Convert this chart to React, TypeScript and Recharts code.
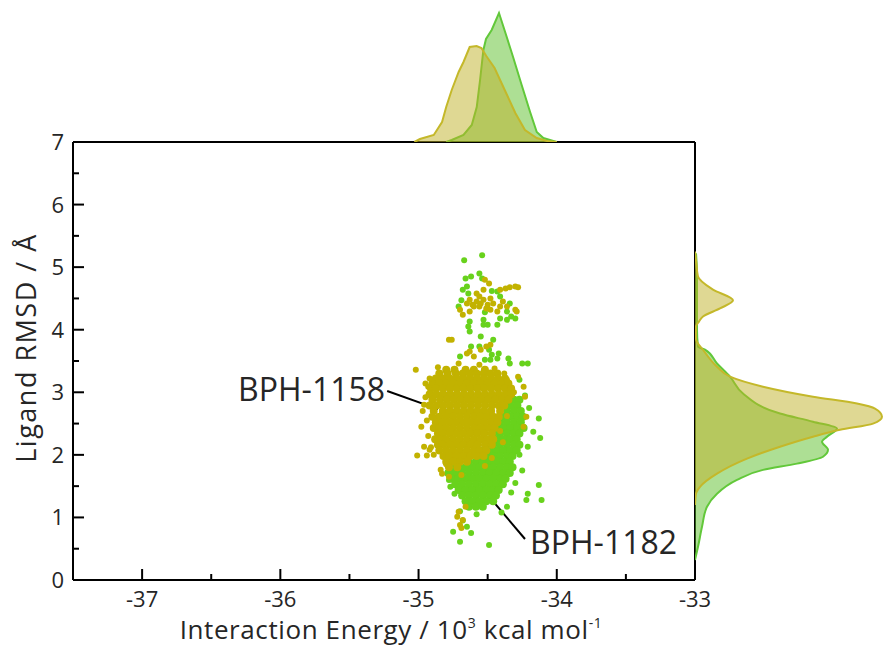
import {
  Area,
  ComposedChart,
  Label,
  ReferenceDot,
  ReferenceLine,
  Scatter,
  ScatterChart,
  XAxis,
  YAxis,
} from "recharts";

const X_TICKS = [-37.5, -37, -36.5, -36, -35.5, -35, -34.5, -34, -33.5, -33];
const Y_TICKS = [0, 0.5, 1, 1.5, 2, 2.5, 3, 3.5, 4, 4.5, 5, 5.5, 6, 6.5, 7];

const YELLOW = "#c2b200";
const GREEN = "#68d21c";
const YELLOW_LINE = "#c4b82a";
const GREEN_LINE = "#62c83a";
const INK = "#262626";

// BPH-1158: dense core read row by row (RMSD, energies)
const BPH1158_CORE: [number, number[]][] = [
  [3.36, [-34.8, -34.74, -34.66, -34.6, -34.52]],
  [3.3, [-34.85, -34.79, -34.73, -34.68, -34.63, -34.58, -34.53, -34.48, -34.43]],
  [3.22, [-34.875, -34.825, -34.775, -34.725, -34.675, -34.625, -34.575, -34.525, -34.475, -34.425, -34.375]],
  [3.14, [-34.9, -34.85, -34.8, -34.75, -34.7, -34.65, -34.6, -34.55, -34.5, -34.45, -34.4, -34.35]],
  [3.06, [-34.91, -34.875, -34.825, -34.775, -34.725, -34.675, -34.625, -34.575, -34.525, -34.475, -34.425, -34.375, -34.33]],
  [2.97, [-34.92, -34.87, -34.82, -34.77, -34.72, -34.67, -34.62, -34.57, -34.52, -34.47, -34.42, -34.37, -34.33]],
  [2.88, [-34.9, -34.845, -34.795, -34.745, -34.695, -34.645, -34.595, -34.545, -34.495, -34.445, -34.395, -34.35]],
  [2.79, [-34.92, -34.87, -34.82, -34.77, -34.72, -34.67, -34.62, -34.57, -34.52, -34.47, -34.42, -34.38]],
  [2.7, [-34.89, -34.825, -34.775, -34.725, -34.675, -34.625, -34.575, -34.525, -34.475, -34.41]],
  [2.61, [-34.9, -34.85, -34.8, -34.75, -34.7, -34.65, -34.6, -34.55, -34.5, -34.46, -34.42]],
  [2.52, [-34.875, -34.825, -34.775, -34.725, -34.675, -34.625, -34.575, -34.525, -34.475, -34.43]],
  [2.43, [-34.89, -34.85, -34.8, -34.75, -34.7, -34.65, -34.6, -34.55, -34.5, -34.45]],
  [2.34, [-34.86, -34.825, -34.775, -34.725, -34.675, -34.625, -34.575, -34.525, -34.47]],
  [2.25, [-34.88, -34.84, -34.8, -34.75, -34.7, -34.65, -34.6, -34.55, -34.5, -34.46]],
  [2.16, [-34.86, -34.825, -34.775, -34.725, -34.675, -34.625, -34.575, -34.52, -34.47]],
  [2.07, [-34.85, -34.8, -34.75, -34.7, -34.65, -34.6, -34.56, -34.51]],
  [1.98, [-34.82, -34.775, -34.725, -34.675, -34.625, -34.58, -34.53]],
  [1.89, [-34.8, -34.75, -34.7, -34.65]],
  [1.8, [-34.78, -34.72]],
];

// BPH-1158: scattered points (energy, RMSD)
const BPH1158_SPREAD = [
  [-34.52, 4.8], [-34.49, 4.74], [-34.53, 4.64], [-34.58, 4.58], [-34.56, 4.53],
  [-34.41, 4.64], [-34.37, 4.66], [-34.34, 4.68], [-34.3, 4.69], [-34.28, 4.68],
  [-34.65, 4.42], [-34.63, 4.48], [-34.58, 4.45], [-34.53, 4.48], [-34.48, 4.5],
  [-34.46, 4.42], [-34.51, 4.34], [-34.56, 4.37], [-34.6, 4.37], [-34.7, 4.32],
  [-34.68, 4.24], [-34.63, 4.29], [-34.41, 4.37], [-34.39, 4.45], [-34.36, 4.37],
  [-34.3, 4.32], [-34.29, 4.29], [-34.43, 4.29], [-34.48, 4.32], [-34.61, 4.4],
  [-34.55, 4.42], [-34.5, 4.4],
  [-34.78, 3.84], [-34.76, 3.84], [-34.65, 3.62], [-34.63, 3.65], [-34.55, 3.68],
  [-34.51, 3.73], [-34.48, 3.76], [-34.6, 3.57],
  [-34.86, 3.4], [-34.71, 3.46], [-34.56, 3.44], [-34.45, 3.38], [-34.38, 3.3],
  [-34.92, 3.22], [-34.95, 2.92], [-34.96, 2.8], [-34.94, 2.55], [-34.93, 2.3],
  [-34.91, 2.12], [-34.89, 2.0], [-34.36, 3.2], [-34.31, 3.0],
  [-35.02, 3.36], [-34.95, 3.14], [-34.93, 3.09], [-34.96, 2.13], [-34.92, 2.08],
  [-35.01, 1.99], [-34.94, 1.99], [-34.84, 1.76], [-34.83, 1.7], [-34.24, 3.09],
  [-34.23, 2.93], [-34.22, 2.61], [-34.24, 2.45], [-34.28, 3.25], [-34.97, 2.7],
  [-34.98, 2.45], [-34.72, 1.01], [-34.7, 0.88], [-34.69, 0.83], [-34.66, 1.17],
  [-34.71, 1.09], [-34.68, 0.96], [-34.69, 1.68], [-34.8, 1.85], [-34.78, 1.65],
  [-34.41, 2.38], [-34.39, 2.2], [-34.47, 1.95], [-34.52, 1.82], [-34.36, 2.62],
];

// BPH-1182: visible dense part, right of and below the yellow core
const BPH1182_CORE: [number, number[]][] = [
  [2.88, [-34.31, -34.27]],
  [2.79, [-34.335, -34.285]],
  [2.7, [-34.36, -34.31, -34.26]],
  [2.61, [-34.385, -34.335, -34.285, -34.245]],
  [2.52, [-34.41, -34.36, -34.31, -34.26]],
  [2.43, [-34.435, -34.385, -34.335, -34.285, -34.24]],
  [2.34, [-34.46, -34.41, -34.36, -34.31, -34.27]],
  [2.25, [-34.485, -34.435, -34.385, -34.335, -34.29]],
  [2.16, [-34.51, -34.46, -34.41, -34.36, -34.31, -34.27]],
  [2.07, [-34.535, -34.485, -34.435, -34.385, -34.335, -34.29]],
  [1.98, [-34.56, -34.51, -34.46, -34.41, -34.36, -34.32]],
  [1.89, [-34.785, -34.735, -34.635, -34.585, -34.535, -34.485, -34.435, -34.385, -34.34]],
  [1.8, [-34.76, -34.71, -34.66, -34.61, -34.56, -34.51, -34.46, -34.41, -34.36, -34.32]],
  [1.71, [-34.785, -34.735, -34.685, -34.635, -34.585, -34.535, -34.485, -34.435, -34.385, -34.34]],
  [1.62, [-34.76, -34.71, -34.66, -34.61, -34.56, -34.51, -34.46, -34.41, -34.37]],
  [1.53, [-34.735, -34.685, -34.635, -34.585, -34.535, -34.485, -34.435, -34.39]],
  [1.44, [-34.71, -34.66, -34.61, -34.56, -34.51, -34.46, -34.42]],
  [1.35, [-34.685, -34.635, -34.585, -34.535, -34.485, -34.44]],
  [1.26, [-34.66, -34.61, -34.56, -34.51, -34.46]],
  [1.17, [-34.635, -34.585, -34.535]],
];

// BPH-1182: scattered points (energy, RMSD)
const BPH1182_SPREAD = [
  [-34.54, 5.19], [-34.67, 5.11], [-34.56, 4.9], [-34.66, 4.82], [-34.62, 4.85],
  [-34.54, 4.82], [-34.65, 4.69], [-34.68, 4.64], [-34.64, 4.58], [-34.71, 4.37],
  [-34.69, 4.47], [-34.41, 4.53], [-34.43, 4.61], [-34.34, 4.42], [-34.36, 4.29],
  [-34.33, 4.21], [-34.36, 4.16], [-34.43, 4.08], [-34.53, 4.16], [-34.63, 4.13],
  [-34.41, 4.18], [-34.3, 4.18], [-34.47, 4.62], [-34.52, 4.28],
  [-34.64, 4.05], [-34.63, 3.97], [-34.53, 4.08], [-34.5, 4.08], [-34.46, 3.84],
  [-34.56, 3.73], [-34.49, 3.68], [-34.47, 3.6], [-34.52, 3.52], [-34.43, 3.54],
  [-34.35, 3.54], [-34.34, 3.46], [-34.25, 3.46], [-34.21, 3.46], [-34.7, 3.57],
  [-34.62, 3.73], [-34.55, 3.89], [-34.48, 3.52], [-34.42, 3.62],
  [-34.13, 2.58], [-34.12, 2.27], [-34.17, 2.37], [-34.21, 2.13], [-34.13, 1.52],
  [-34.21, 1.38], [-34.11, 1.28], [-34.22, 1.28], [-34.36, 1.17], [-34.7, 0.61],
  [-34.49, 0.56], [-34.75, 0.77], [-34.65, 0.85], [-34.62, 0.75], [-34.77, 1.49],
  [-34.74, 1.38], [-34.78, 1.6], [-34.27, 3.2], [-34.23, 2.95], [-34.2, 2.75],
  [-34.3, 1.55], [-34.33, 1.4], [-34.7, 1.1], [-34.68, 0.95], [-34.58, 1.05],
  [-34.4, 1.08], [-34.25, 1.75], [-34.27, 2.0],
];

// marginal densities (energy, height) and (RMSD, width), in panel pixels
const TOP_1158 = [
  [-35.03, 0], [-34.99, 3], [-34.89, 7], [-34.83, 20], [-34.8, 35], [-34.76, 52],
  [-34.71, 70], [-34.675, 80], [-34.63, 95], [-34.58, 96], [-34.545, 94], [-34.51, 86],
  [-34.45, 74], [-34.37, 50], [-34.3, 29], [-34.23, 12], [-34.145, 4], [-34.07, 1], [-34.0, 0],
];
const TOP_1182 = [
  [-34.8, 0], [-34.76, 2], [-34.675, 7], [-34.615, 17], [-34.579, 35], [-34.555, 62],
  [-34.531, 92], [-34.512, 103], [-34.471, 112], [-34.418, 129], [-34.362, 105],
  [-34.314, 84], [-34.254, 57], [-34.193, 30], [-34.145, 10], [-34.097, 4], [-34.049, 2], [-34.0, 0],
];
const RIGHT_1158 = [
  [5.25, 0], [5.11, 1], [4.85, 3], [4.64, 18], [4.47, 38], [4.34, 25], [4.21, 8],
  [4.13, 4], [4.05, 1], [3.85, 1], [3.68, 8], [3.41, 22], [3.25, 35], [3.09, 68],
  [2.93, 118], [2.82, 162], [2.74, 180], [2.61, 187], [2.5, 178], [2.4, 145],
  [2.29, 118], [2.13, 85], [1.94, 52], [1.7, 22], [1.49, 5], [1.38, 1], [1.2, 0],
];
const RIGHT_1182 = [
  [5.22, 1], [4.9, 2], [4.5, 2], [4.0, 2], [3.73, 3], [3.68, 10], [3.46, 22],
  [3.25, 35], [2.98, 48], [2.66, 85], [2.53, 118], [2.42, 142], [2.29, 132],
  [2.21, 127], [2.08, 133], [1.97, 128], [1.86, 102], [1.76, 68], [1.6, 42],
  [1.38, 22], [1.17, 12], [0.85, 7], [0.53, 3], [0.32, 0],
];

const fromRows = (rows: [number, number[]][]) =>
  rows.flatMap(([y, xs]) => xs.map((x) => ({ x, y })));
const fromPairs = (list: number[][]) => list.map(([x, y]) => ({ x, y }));

const topY = TOP_1158.map(([e, d]) => ({ e, d }));
const topG = TOP_1182.map(([e, d]) => ({ e, d }));
const rightY = RIGHT_1158.map(([r, w]) => ({ r, w }));
const rightG = RIGHT_1182.map(([r, w]) => ({ r, w }));

const dot = (fill: string, r: number) => (p: any) => <circle cx={p.cx} cy={p.cy} r={r} fill={fill} />;

function XTick({ x, y, payload }: any) {
  const major = Number.isInteger(payload.value);
  return (
    <g>
      <line x1={x} x2={x} y1={y} y2={y - (major ? 11 : 6)} stroke="#000" strokeWidth={2} />
      {major && (
        <text x={x} y={y + 27} textAnchor="middle" fontSize={22} fill={INK}>
          {payload.value}
        </text>
      )}
    </g>
  );
}

function YTick({ x, y, payload }: any) {
  const major = Number.isInteger(payload.value);
  return (
    <g>
      <line x1={x} x2={x + (major ? 11 : 6)} y1={y} y2={y} stroke="#000" strokeWidth={2} />
      {major && (
        <text x={x - 9} y={y + 8} textAnchor="end" fontSize={22} fill={INK}>
          {payload.value}
        </text>
      )}
    </g>
  );
}

const XTitle = ({ viewBox }: any) => (
  <text
    x={viewBox.x + viewBox.width / 2 + 7}
    y={viewBox.y + 59}
    textAnchor="middle"
    fontSize={26}
    letterSpacing={0.6}
    fill={INK}
  >
    <tspan>Interaction Energy / 10</tspan>
    <tspan dy={-11} fontSize={14}>3</tspan>
    <tspan dy={11}> kcal mol</tspan>
    <tspan dy={-11} fontSize={14}>-1</tspan>
  </text>
);

const YTitle = ({ viewBox }: any) => (
  <text
    transform={`translate(${viewBox.x + 2}, ${viewBox.y + viewBox.height / 2 - 13}) rotate(-90)`}
    textAnchor="middle"
    dominantBaseline="central"
    fontSize={27}
    letterSpacing={1.5}
    fill={INK}
  >
    Ligand RMSD / Å
  </text>
);

const tag = (text: string, anchor: "start" | "end") => (p: any) => (
  <text x={p.cx} y={p.cy} textAnchor={anchor} fontSize={32} fill={INK}>
    {text}
  </text>
);

export default function App() {
  return (
    <div
      style={{
        position: "absolute",
        left: 0,
        top: 0,
        width: 883,
        height: 648,
        background: "#fff",
        fontFamily: '"Open Sans", sans-serif',
      }}
    >
      <ScatterChart width={883} height={648} margin={{ top: 142, right: 188, bottom: 28, left: 23 }}>
        <XAxis
          type="number"
          dataKey="x"
          domain={[-37.5, -33]}
          ticks={X_TICKS}
          interval={0}
          height={40}
          tickSize={0}
          tickMargin={0}
          tickLine={false}
          tick={<XTick />}
          axisLine={{ stroke: "#000", strokeWidth: 2 }}
          allowDataOverflow
        >
          <Label content={<XTitle />} />
        </XAxis>
        <YAxis
          type="number"
          dataKey="y"
          domain={[0, 7]}
          ticks={Y_TICKS}
          interval={0}
          width={50}
          tickSize={0}
          tickMargin={0}
          tickLine={false}
          tick={<YTick />}
          axisLine={{ stroke: "#000", strokeWidth: 2 }}
          allowDataOverflow
        >
          <Label content={<YTitle />} />
        </YAxis>
        <ReferenceLine y={7} stroke="#000" strokeWidth={2} />
        <ReferenceLine x={-33} stroke="#000" strokeWidth={2} />
        <Scatter name="BPH-1182 core" data={fromRows(BPH1182_CORE)} shape={dot(GREEN, 4)} isAnimationActive={false} />
        <Scatter name="BPH-1182" data={fromPairs(BPH1182_SPREAD)} shape={dot(GREEN, 3)} isAnimationActive={false} />
        <Scatter name="BPH-1158 core" data={fromRows(BPH1158_CORE)} shape={dot(YELLOW, 4)} isAnimationActive={false} />
        <Scatter name="BPH-1158" data={fromPairs(BPH1158_SPREAD)} shape={dot(YELLOW, 3)} isAnimationActive={false} />
        <ReferenceLine
          segment={[{ x: -35.227, y: 3.02 }, { x: -34.859, y: 2.73 }]}
          stroke="#000"
          strokeWidth={2}
        />
        <ReferenceLine
          segment={[{ x: -34.519, y: 1.41 }, { x: -34.23, y: 0.655 }]}
          stroke="#000"
          strokeWidth={2}
        />
        <ReferenceDot x={-35.242} y={2.861} r={0} shape={tag("BPH-1158", "end")} />
        <ReferenceDot x={-34.193} y={0.416} r={0} shape={tag("BPH-1182", "start")} />
      </ScatterChart>

      <div style={{ position: "absolute", left: 0, top: 0 }}>
        <ComposedChart width={883} height={142} margin={{ top: 0, right: 188, bottom: 0, left: 73 }}>
          <XAxis type="number" dataKey="e" domain={[-37.5, -33]} hide allowDataOverflow />
          <YAxis type="number" domain={[0, 142]} hide allowDataOverflow />
          <Area
            data={topG}
            dataKey="d"
            type="linear"
            stroke={GREEN_LINE}
            strokeWidth={2}
            fill="#5cc02a"
            fillOpacity={0.5}
            isAnimationActive={false}
          />
          <Area
            data={topY}
            dataKey="d"
            type="linear"
            stroke={YELLOW_LINE}
            strokeWidth={2}
            fill="#c0b228"
            fillOpacity={0.5}
            isAnimationActive={false}
          />
        </ComposedChart>
      </div>

      <div style={{ position: "absolute", left: 695, top: 0 }}>
        <ComposedChart
          layout="vertical"
          width={188}
          height={648}
          margin={{ top: 142, right: 0, bottom: 68, left: 0 }}
        >
          <XAxis type="number" domain={[0, 188]} hide allowDataOverflow />
          <YAxis type="number" dataKey="r" domain={[0, 7]} reversed hide allowDataOverflow />
          <Area
            data={rightG}
            dataKey="w"
            type="monotone"
            stroke={GREEN_LINE}
            strokeWidth={2}
            fill="#5cc02a"
            fillOpacity={0.5}
            isAnimationActive={false}
          />
          <Area
            data={rightY}
            dataKey="w"
            type="monotone"
            stroke={YELLOW_LINE}
            strokeWidth={2}
            fill="#c0b228"
            fillOpacity={0.5}
            isAnimationActive={false}
          />
        </ComposedChart>
      </div>
    </div>
  );
}
